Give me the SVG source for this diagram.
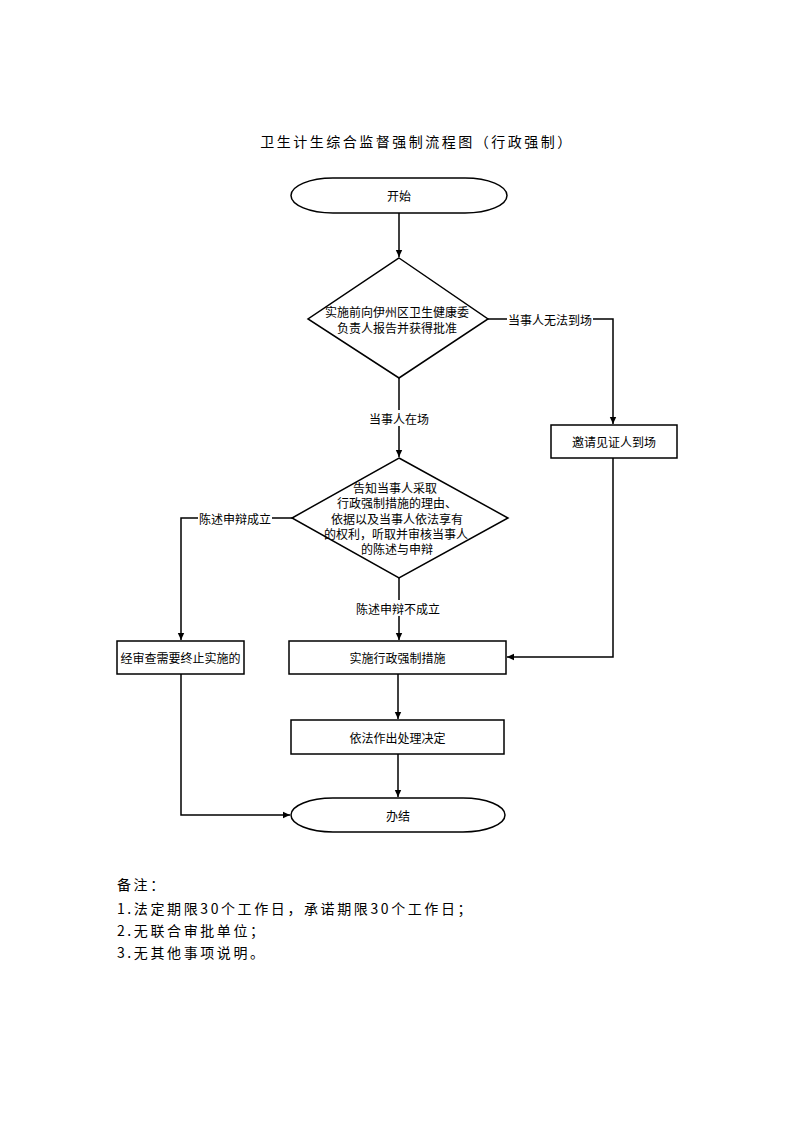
<svg xmlns="http://www.w3.org/2000/svg" width="793" height="1122" viewBox="0 0 793 1122">
<defs>
<style>
.s{fill:#fff;stroke:#000;stroke-width:1.5}
.t{font-family:"Noto Sans CJK SC","Noto Sans",sans-serif;font-size:12px;fill:#000;text-anchor:middle;dominant-baseline:central}
.c{fill:none;stroke:#000;stroke-width:1.5}
.lb{fill:#fff;stroke:none}
.n{font-family:"Noto Sans CJK SC",serif;font-size:14px;fill:#000;letter-spacing:2.6px}
</style>
<marker id="a" markerWidth="8" markerHeight="8" refX="7" refY="4" orient="auto" markerUnits="userSpaceOnUse">
<path d="M0,0.8 L7,4 L0,7.2 Z" fill="#000"/>
</marker>
</defs>
<rect width="793" height="1122" fill="#fff"/>
<text x="417" y="141" class="n" text-anchor="middle" dominant-baseline="central" style="letter-spacing:2.5px">卫生计生综合监督强制流程图（行政强制）</text>

<g id="connectors">
<path class="c" d="M399,213 V257" marker-end="url(#a)"/>
<path class="c" d="M399,378 V457" marker-end="url(#a)"/>
<path class="c" d="M488,319 H613 V424" marker-end="url(#a)"/>
<path class="c" d="M292,518 H181 V640" marker-end="url(#a)"/>
<path class="c" d="M399,578 V640" marker-end="url(#a)"/>
<path class="c" d="M613,458 V657 H507" marker-end="url(#a)"/>
<path class="c" d="M398,674 V719" marker-end="url(#a)"/>
<path class="c" d="M398,754 V797" marker-end="url(#a)"/>
<path class="c" d="M181,674 V815 H290" marker-end="url(#a)"/>
<rect class="lb" x="507" y="311" width="86" height="16"/>
<text x="550" y="319" class="t">当事人无法到场</text>
<rect class="lb" x="367" y="410" width="64" height="16"/>
<text x="399" y="418" class="t">当事人在场</text>
<rect class="lb" x="198" y="510" width="74" height="16"/>
<text x="235" y="518" class="t">陈述申辩成立</text>
<rect class="lb" x="354" y="600" width="88" height="16"/>
<text x="398" y="608" class="t">陈述申辩不成立</text>
</g>

<g id="start">
<rect class="s" x="291" y="178" width="216" height="35" rx="42" ry="17.5"/>
<text x="399" y="195" class="t">开始</text>
</g>
<g id="d1">
<polygon class="s" points="399,258 488,319 399,378 308,319"/>
<text x="397" y="311" class="t">实施前向伊州区卫生健康委</text>
<text x="397" y="327" class="t">负责人报告并获得批准</text>
</g>
<g id="witness">
<rect class="s" x="551" y="425" width="126" height="33"/>
<text x="614" y="441.5" class="t">邀请见证人到场</text>
</g>
<g id="d2">
<polygon class="s" points="399,458 508,518 399,578 292,518"/>
<text x="395" y="487" class="t">告知当事人采取</text>
<text x="397" y="502" class="t">行政强制措施的理由、</text>
<text x="397" y="518" class="t">依据以及当事人依法享有</text>
<text x="396" y="533" class="t">的权利，听取并审核当事人</text>
<text x="397" y="548" class="t">的陈述与申辩</text>
</g>
<g id="stop">
<rect class="s" x="117" y="641" width="127" height="33"/>
<text x="180.5" y="657.5" class="t">经审查需要终止实施的</text>
</g>
<g id="enforce">
<rect class="s" x="289" y="641" width="217" height="33"/>
<text x="397.5" y="657.5" class="t">实施行政强制措施</text>
</g>
<g id="decide">
<rect class="s" x="291" y="720" width="213" height="34"/>
<text x="397.5" y="737" class="t">依法作出处理决定</text>
</g>
<g id="end">
<rect class="s" x="291" y="798" width="214" height="34" rx="42" ry="17"/>
<text x="398" y="815" class="t">办结</text>
</g>

<g id="notes">
<text x="117" y="890" class="n">备注：</text>
<text x="117" y="914" class="n">1.法定期限30个工作日，承诺期限30个工作日；</text>
<text x="117" y="936" class="n">2.无联合审批单位；</text>
<text x="117" y="958" class="n">3.无其他事项说明。</text>
</g>
</svg>
